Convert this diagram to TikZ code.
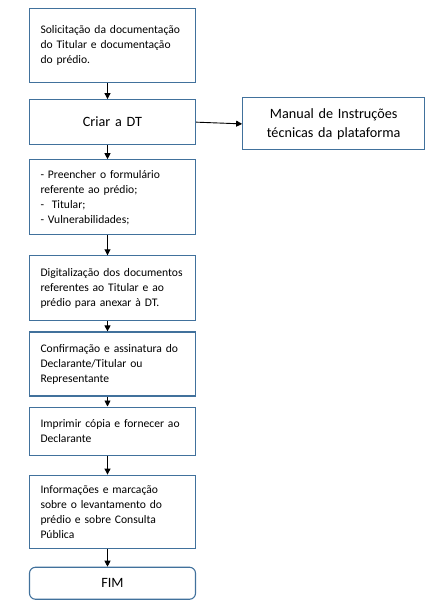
\documentclass[tikz,border=0pt]{standalone}
\usepackage{fontspec}
\setmainfont{Carlito}
\definecolor{edge}{RGB}{65,113,156}
\usetikzlibrary{arrows.meta}
\usetikzlibrary{positioning}
\tikzset{
    stepbox/.style={draw=edge, line width=1.1pt, fill=white, minimum width=166pt,
        text width=144pt, inner xsep=11pt, align=left, font=\fontsize{11.6}{15}\selectfont},
    bigbox/.style={stepbox, align=center, font=\fontsize{14.2}{19}\selectfont},
    link/.style={-{Triangle[width=6pt,length=6pt]}, line width=0.9pt, black}
}

\begin{document}
\begin{tikzpicture}[x=1pt, y=1pt]
    \useasboundingbox (0,0) rectangle (431,-612);
        \node [stepbox, anchor=north, minimum height=74pt] (pedido) at (112.5,-8)
            {Solicitação da documentação\\do Titular e documentação\\do prédio.};
        \node [bigbox, minimum height=45pt, below=16pt of pedido] (criar) {Criar a DT};
        \node [bigbox, minimum width=174pt, text width=160pt, minimum height=52pt] (manual) at (333.7,-123.9)
            {Manual de Instruções\\técnicas da plataforma};
        \node [stepbox, minimum height=75pt, below=14pt of criar] (form)
            {- Preencher o formulário\\referente ao prédio;\\-~ Titular;\\- Vulnerabilidades;};
        \node [stepbox, minimum height=65pt, below=20pt of form] (digital)
            {Digitalização dos documentos\\referentes ao Titular e ao\\prédio para anexar à DT.};
        \node [stepbox, minimum height=64pt, below=10pt of digital] (assina)
            {Confirmação e assinatura do\\Declarante/Titular ou\\Representante};
        \node [stepbox, minimum height=48pt, below=10pt of assina] (copia)
            {Imprimir cópia e fornecer ao\\Declarante};
        \node [stepbox, minimum height=73pt, below=19pt of copia] (info)
            {Informações e marcação\\sobre o levantamento do\\prédio e sobre Consulta\\Pública};
        \node [bigbox, rounded corners=6pt, minimum height=32pt, below=18pt of info] (fim) {FIM};
        % arrows
        \foreach \a/\b in {pedido/criar, criar/form, form/digital, digital/assina, assina/copia, copia/info, info/fim}
            \draw [link] ([xshift=-5pt]\a.south) -- ([xshift=-5pt]\b.north);
        \draw [link] (criar.east) -- (manual.west);
    \end{tikzpicture}
\end{document}
